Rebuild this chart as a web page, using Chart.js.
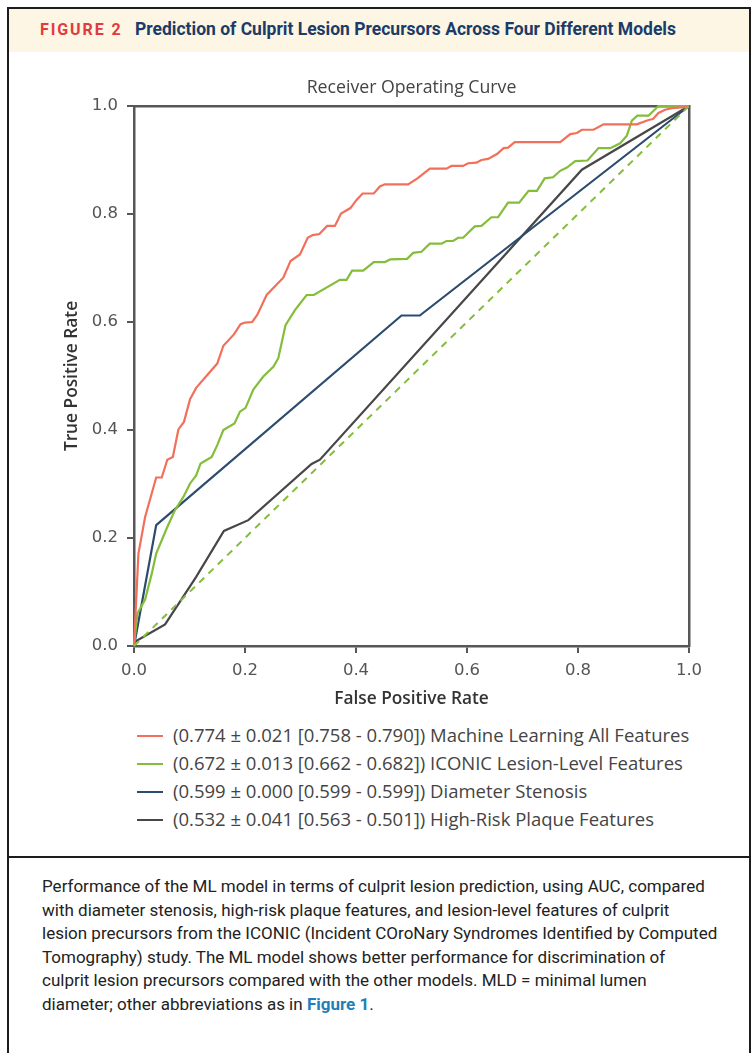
<!DOCTYPE html>
<html>
<head>
<meta charset="utf-8">
<script src="https://cdn.jsdelivr.net/npm/chart.js@4.4.1/dist/chart.umd.min.js"></script>
<style>
  html, body { margin: 0; padding: 0; background: #fff; overflow: hidden; }
  body { width: 756px; height: 1053px; position: relative; font-family: "Open Sans", sans-serif; }
  #frame { position: absolute; left: 7px; top: 7px; width: 744px; height: 1100px; box-sizing: border-box; border: 2px solid #1c1c1c; }
  #head { position: absolute; left: 9px; top: 9px; width: 740px; height: 43px; background: #fdf6e4; }
  #head .fig { position: absolute; left: 31px; top: 11px; font: bold 16px Roboto, sans-serif; letter-spacing: 1.9px; color: #e23a3f; }
  #head .ttl { position: absolute; left: 126px; top: 10px; font: bold 17.5px Roboto, sans-serif; color: #1b3b68; white-space: nowrap; }
  #divider { position: absolute; left: 9px; top: 856px; width: 740px; height: 2px; background: #1c1c1c; }
  #chartBox { position: absolute; left: 20px; top: 60px; width: 700px; height: 660px; }
  #legend { position: absolute; left: 137px; top: 721px; }
  #legend .row { height: 28px; line-height: 28px; font-size: 18.5px; color: #444; white-space: nowrap; }
  #legend .mark { display: inline-block; width: 26px; height: 2px; vertical-align: middle; margin-right: 10px; position: relative; top: -1px; }
  #caption { position: absolute; left: 42px; top: 875px; font: 17px/23.5px Roboto, sans-serif; color: #222; white-space: nowrap; }
  #caption b { color: #1f7fb8; }
</style>
</head>
<body>
<div id="frame"></div>
<div id="head"><span class="fig">FIGURE 2</span><span class="ttl">Prediction of Culprit Lesion Precursors Across Four Different Models</span></div>
<div id="chartBox"><canvas id="rocChart"></canvas></div>
<div id="legend"></div>
<div id="divider"></div>
<div id="caption">Performance of the ML model in terms of culprit lesion prediction, using AUC, compared<br>with diameter stenosis, high-risk plaque features, and lesion-level features of culprit<br>lesion precursors from the ICONIC (Incident COroNary Syndromes Identified by Computed<br>Tomography) study. The ML model shows better performance for discrimination of<br>culprit lesion precursors compared with the other models. MLD = minimal lumen<br>diameter; other abbreviations as in <b>Figure 1</b>.</div>

<script>
// ROC curves (false positive rate / true positive rate)
const mlFpr = [0, 0.008, 0.02, 0.04, 0.05, 0.06, 0.07, 0.08, 0.09, 0.101, 0.112, 0.132, 0.15, 0.161, 0.18, 0.192, 0.2, 0.213, 0.222, 0.239, 0.269, 0.282, 0.299, 0.313, 0.322, 0.334, 0.348, 0.362, 0.373, 0.39, 0.401, 0.412, 0.432, 0.443, 0.452, 0.494, 0.512, 0.533, 0.563, 0.572, 0.593, 0.602, 0.617, 0.626, 0.638, 0.654, 0.666, 0.674, 0.686, 0.768, 0.786, 0.798, 0.807, 0.828, 0.846, 0.906, 0.927, 0.935, 0.945, 0.957, 0.969, 0.993, 1.0];
const mlTpr = [0, 0.171, 0.239, 0.312, 0.312, 0.345, 0.35, 0.401, 0.415, 0.457, 0.478, 0.502, 0.523, 0.556, 0.577, 0.596, 0.599, 0.6, 0.613, 0.65, 0.682, 0.713, 0.725, 0.756, 0.761, 0.763, 0.778, 0.778, 0.801, 0.811, 0.826, 0.838, 0.838, 0.851, 0.855, 0.855, 0.867, 0.884, 0.884, 0.889, 0.889, 0.894, 0.895, 0.9, 0.902, 0.911, 0.922, 0.923, 0.933, 0.933, 0.948, 0.95, 0.956, 0.956, 0.966, 0.966, 0.974, 0.976, 0.987, 0.993, 0.996, 0.998, 1.0];

const iconicFpr = [0, 0.006, 0.02, 0.032, 0.04, 0.059, 0.074, 0.089, 0.101, 0.112, 0.12, 0.14, 0.15, 0.161, 0.181, 0.191, 0.201, 0.215, 0.233, 0.251, 0.26, 0.273, 0.29, 0.311, 0.324, 0.371, 0.383, 0.393, 0.413, 0.432, 0.452, 0.462, 0.492, 0.503, 0.518, 0.533, 0.554, 0.563, 0.575, 0.584, 0.593, 0.614, 0.626, 0.644, 0.656, 0.674, 0.694, 0.711, 0.726, 0.74, 0.755, 0.768, 0.78, 0.795, 0.817, 0.837, 0.858, 0.876, 0.888, 0.897, 0.907, 0.927, 0.945, 1.0];
const iconicTpr = [0, 0.06, 0.086, 0.134, 0.171, 0.218, 0.252, 0.276, 0.301, 0.316, 0.338, 0.35, 0.372, 0.4, 0.412, 0.434, 0.441, 0.475, 0.499, 0.517, 0.533, 0.594, 0.622, 0.65, 0.65, 0.678, 0.678, 0.695, 0.695, 0.711, 0.711, 0.716, 0.717, 0.728, 0.73, 0.745, 0.745, 0.75, 0.75, 0.756, 0.756, 0.777, 0.778, 0.794, 0.794, 0.821, 0.821, 0.843, 0.843, 0.866, 0.868, 0.88, 0.886, 0.898, 0.899, 0.922, 0.922, 0.931, 0.945, 0.973, 0.982, 0.982, 1.0, 1.0];

const stenosisFpr = [0, 0.04, 0.482, 0.515, 1.0];
const stenosisTpr = [0, 0.224, 0.612, 0.612, 1.0];

const plaqueFpr = [0, 0.056, 0.112, 0.162, 0.206, 0.32, 0.335, 0.807, 1.0];
const plaqueTpr = [0.007, 0.04, 0.128, 0.213, 0.233, 0.337, 0.345, 0.882, 1.0];

const chanceFpr = [0, 1];
const chanceTpr = [0, 1];

const seriesLabels = [
  '(0.774 ± 0.021 [0.758 - 0.790]) Machine Learning All Features',
  '(0.672 ± 0.013 [0.662 - 0.682]) ICONIC Lesion-Level Features',
  '(0.599 ± 0.000 [0.599 - 0.599]) Diameter Stenosis',
  '(0.532 ± 0.041 [0.563 - 0.501]) High-Risk Plaque Features'
];

const tickValues = [0, 0.2, 0.4, 0.6, 0.8, 1.0];
const tickLabels = ['0.0', '0.2', '0.4', '0.6', '0.8', '1.0'];

function pts(xs, ys) {
  return xs.map((x, i) => ({ x: x, y: ys[i] }));
}

function curve(label, xs, ys, color, extra) {
  return Object.assign({
    label: label,
    data: pts(xs, ys),
    borderColor: color,
    backgroundColor: color,
    borderWidth: 2.2,
    pointRadius: 0,
    tension: 0,
    fill: false,
    clip: false
  }, extra || {});
}

const axisColor = '#575757';
const tickFont = { family: 'DejaVu Sans', size: 16.5 };
const titleFont = { family: 'Open Sans', size: 17.3, weight: '600', lineHeight: 1.2 };

function setTicks(scale) {
  scale.ticks = tickValues.map(v => ({ value: v }));
}
function tickText(value) {
  const i = tickValues.indexOf(value);
  return i >= 0 ? tickLabels[i] : '';
}

const ctx = document.getElementById('rocChart').getContext('2d');
const chart = new Chart(ctx, {
  type: 'line',
  data: {
    datasets: [
      curve('chance', chanceFpr, chanceTpr, '#84bd3a', { borderDash: [7, 6], borderWidth: 2 }),
      curve(seriesLabels[0], mlFpr, mlTpr, '#f2705b'),
      curve(seriesLabels[1], iconicFpr, iconicTpr, '#84bd3a'),
      curve(seriesLabels[2], stenosisFpr, stenosisTpr, '#2c4b6e'),
      curve(seriesLabels[3], plaqueFpr, plaqueTpr, '#474747')
    ]
  },
  options: {
    responsive: true,
    maintainAspectRatio: false,
    animation: false,
    layout: { padding: 0 },
    plugins: {
      legend: { display: false },
      tooltip: { enabled: false }
    },
    scales: {
      x: {
        type: 'linear',
        position: 'bottom',
        min: 0,
        max: 1,
        afterBuildTicks: setTicks,
        afterFit: function(axis) { axis.height = 74; },
        ticks: {
          color: '#555',
          font: tickFont,
          padding: 8,
          maxRotation: 0,
          callback: tickText
        },
        grid: { drawOnChartArea: false, drawTicks: true, tickLength: 7, color: axisColor, lineWidth: 2 },
        border: { color: axisColor, width: 2.5 },
        title: {
          display: true,
          text: 'False Positive Rate',
          color: '#333',
          font: titleFont,
          padding: { top: 0, bottom: 11 }
        }
      },
      y: {
        type: 'linear',
        position: 'left',
        min: 0,
        max: 1,
        afterBuildTicks: setTicks,
        afterFit: function(axis) { axis.width = 114; },
        ticks: {
          color: '#555',
          font: tickFont,
          padding: 9,
          callback: tickText
        },
        grid: { drawOnChartArea: false, drawTicks: true, tickLength: 7, color: axisColor, lineWidth: 2 },
        border: { color: axisColor, width: 2.5 },
        title: {
          display: true,
          text: 'True Positive Rate',
          color: '#333',
          font: titleFont,
          padding: { top: 42, bottom: 0 }
        }
      },
      xTop: {
        type: 'linear',
        position: 'top',
        min: 0,
        max: 1,
        afterFit: function(axis) { axis.height = 46; },
        ticks: { display: false },
        grid: { display: false },
        border: { color: axisColor, width: 2.5 },
        title: {
          display: true,
          text: 'Receiver Operating Curve',
          color: '#444',
          font: { family: 'Open Sans', size: 17.7, lineHeight: 1.2 },
          padding: { top: 17, bottom: 0 }
        }
      },
      yRight: {
        type: 'linear',
        position: 'right',
        min: 0,
        max: 1,
        afterFit: function(axis) { axis.width = 31; },
        ticks: { display: false },
        grid: { display: false },
        border: { color: axisColor, width: 2.5 }
      }
    }
  }
});

// legend below the plot, one row per model
const legendEl = document.getElementById('legend');
chart.data.datasets.slice(1).forEach(function(ds) {
  const row = document.createElement('div');
  row.className = 'row';
  const mark = document.createElement('span');
  mark.className = 'mark';
  mark.style.background = ds.borderColor;
  row.appendChild(mark);
  row.appendChild(document.createTextNode(ds.label));
  legendEl.appendChild(row);
});
</script>
</body>
</html>
